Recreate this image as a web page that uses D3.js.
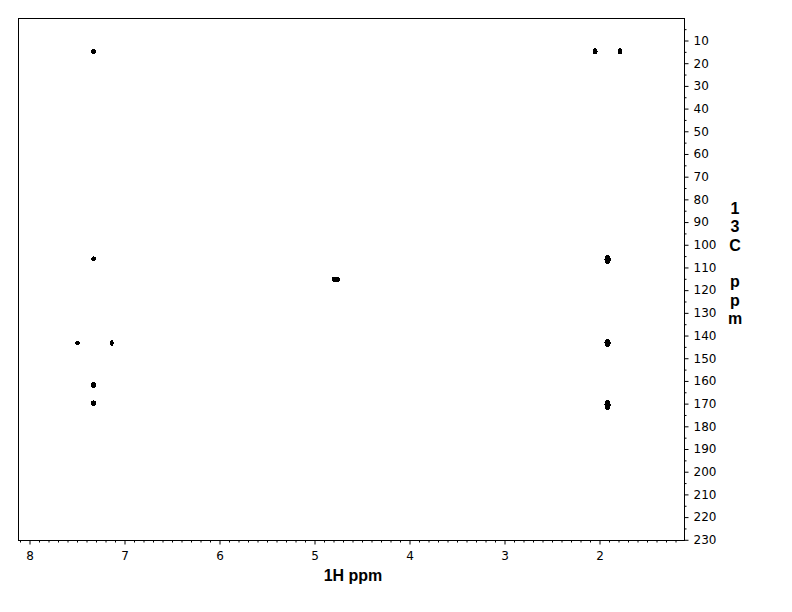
<!DOCTYPE html>
<html><head><meta charset="utf-8">
<script src="https://cdn.jsdelivr.net/npm/d3@7/dist/d3.min.js"></script>
<style>body{margin:0;background:#fff}svg{display:block}</style>
</head><body>
<svg id="c" width="792" height="612"></svg>
<script>
// Cross peaks (1H ppm, 13C ppm) and contour extents in ppm
const peakH  = [7.32, 2.04, 1.78, 7.32, 1.91, 4.77, 7.49, 7.13, 1.91, 7.32, 7.32, 1.91];
const peakC  = [15.0, 15.0, 15.0, 106.4, 106.7, 115.5, 143.5, 143.5, 143.5, 162.0, 170.0, 170.8];
const widthH = [0.05, 0.05, 0.05, 0.05, 0.065, 0.09, 0.05, 0.042, 0.065, 0.055, 0.055, 0.065];
const widthC = [2.4, 2.8, 2.8, 2.2, 4.0, 2.6, 2.2, 2.5, 3.6, 2.4, 2.4, 4.4];
const hTicks = [8, 7, 6, 5, 4, 3, 2];
const cTicks = [10,20,30,40,50,60,70,80,90,100,110,120,130,140,150,160,170,180,190,200,210,220,230];
const xLabel = "1H ppm";
const yLabelChars = ["1","3","C","","p","p","m"];

const svg = d3.select("#c");
const L = 18, T = 18, R = 684, B = 540;
const x = d3.scaleLinear().domain([8.1158, 1.1053]).range([L, R]);
const y = d3.scaleLinear().domain([0.306, 230.31]).range([T, B]);
const font = "'DejaVu Sans', sans-serif";
const titleFont = "'Liberation Sans', Arial, sans-serif";

// frame
svg.append("rect").attr("x", L + 0.5).attr("y", T + 0.5)
  .attr("width", R - L).attr("height", B - T)
  .attr("fill", "none").attr("stroke", "#000").attr("stroke-width", 1);

// bottom minor ticks
const hMinor = d3.range(12, 82).map(v => v / 10).filter(v => !hTicks.includes(v));
svg.append("g").attr("transform", `translate(0.5,${B + 0.5})`)
  .call(d3.axisBottom(x).tickValues(hMinor).tickSize(2).tickSizeOuter(0).tickFormat(""))
  .call(g => g.select(".domain").remove());
// bottom major
svg.append("g").attr("transform", `translate(0.5,${B + 0.5})`)
  .call(d3.axisBottom(x).tickValues(hTicks).tickSize(4).tickSizeOuter(0).tickPadding(7).tickFormat(d3.format("d")))
  .call(g => g.select(".domain").remove())
  .call(g => g.selectAll("text").attr("font-family", font).attr("font-size", 12).attr("fill", "#000"));

// right minor ticks
const cMinor = d3.range(5, 231, 10);
svg.append("g").attr("transform", `translate(${R + 0.5},0.5)`)
  .call(d3.axisRight(y).tickValues(cMinor).tickSize(2).tickSizeOuter(0).tickFormat(""))
  .call(g => g.select(".domain").remove());
svg.append("g").attr("transform", `translate(${R + 0.5},0.5)`)
  .call(d3.axisRight(y).tickValues(cTicks).tickSize(4).tickSizeOuter(0).tickPadding(5).tickFormat(d3.format("d")))
  .call(g => g.select(".domain").remove())
  .call(g => g.selectAll("text").attr("font-family", font).attr("font-size", 12).attr("fill", "#000"));

// axis titles
svg.append("text").attr("x", 353).attr("y", 581).attr("text-anchor", "middle")
  .attr("font-family", titleFont).attr("font-weight", "bold")
  .attr("font-size", 16).text(xLabel);
svg.append("g").selectAll("text").data(yLabelChars).join("text")
  .attr("x", 735).attr("y", (d, i) => 214 + i * 18.3).attr("text-anchor", "middle")
  .attr("font-family", titleFont).attr("font-weight", "bold")
  .attr("font-size", 16).text(d => d);

// peaks
const peaks = peakH.map((h, i) => ({h, c: peakC[i], wh: widthH[i], wc: widthC[i]}));
svg.append("g").attr("shape-rendering", "crispEdges").selectAll("ellipse").data(peaks).join("ellipse")
  .attr("cx", d => x(d.h)).attr("cy", d => y(d.c))
  .attr("rx", d => Math.abs(x(d.h + d.wh / 2) - x(d.h - d.wh / 2)) / 2)
  .attr("ry", d => Math.abs(y(d.c + d.wc / 2) - y(d.c - d.wc / 2)) / 2)
  .attr("fill", "#000");
</script>
</body></html>
